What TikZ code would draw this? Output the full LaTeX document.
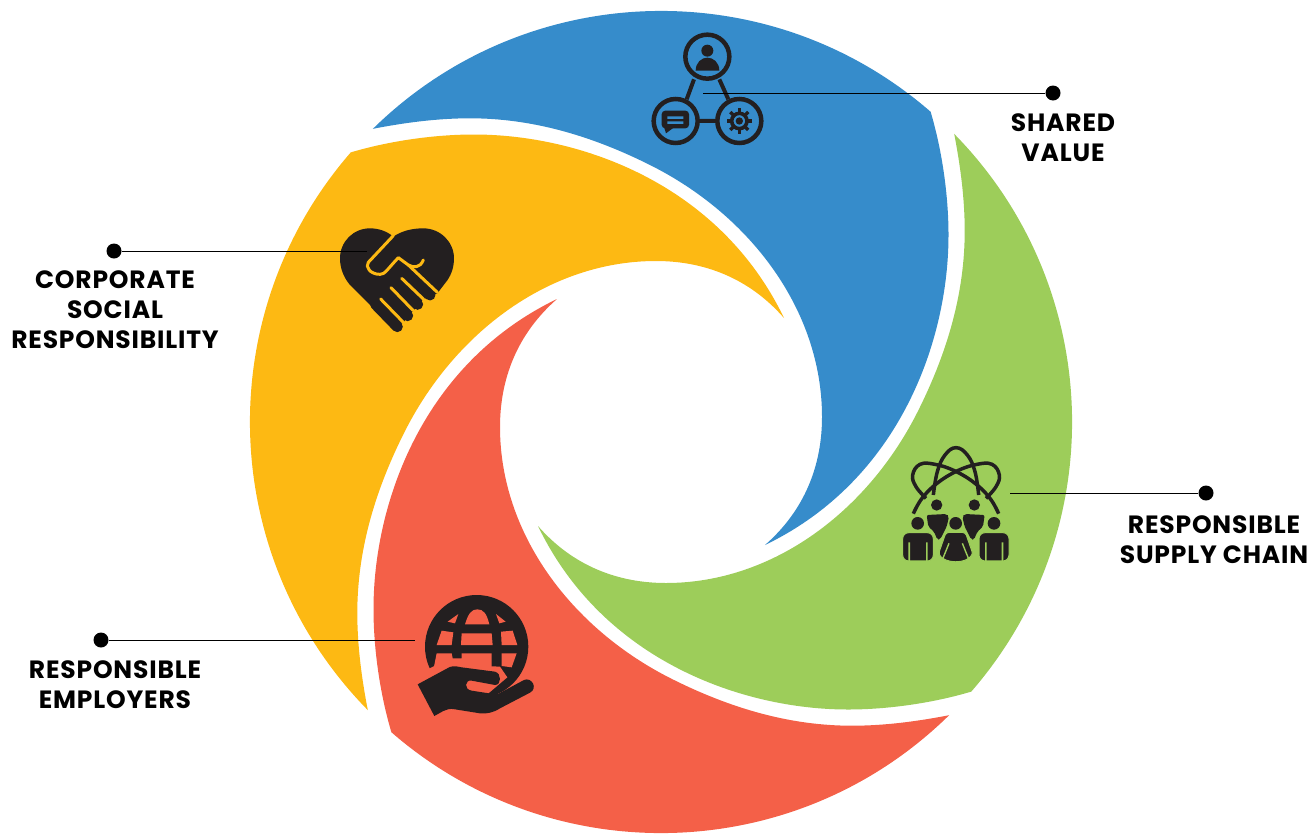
\documentclass[tikz,border=0pt]{standalone}
\usepackage{fontspec}
\setmainfont{Poppins}[LetterSpace=3.3]
\definecolor{cblue}{HTML}{368CCB}
\definecolor{cgreen}{HTML}{9DCD5A}
\definecolor{cred}{HTML}{F46048}
\definecolor{cyellow}{HTML}{FDB913}
\definecolor{cdark}{HTML}{231F20}
\tikzset{
  dotnode/.style={circle,fill=black,inner sep=0pt,minimum size=15pt},
  leader/.style={draw=black,line width=0.9pt},
  lab/.style={align=center,inner sep=0pt,font=\fontsize{25}{30}\selectfont\bfseries},
  ico/.style={x=0.3333pt,y=-0.3333pt},
  ring/.style={draw=cdark,line width=4.5pt},
  lnk/.style={draw=cdark,line width=4pt},
  orb/.style={draw=cdark,line width=3.5pt,line cap=butt},
  sep/.style={draw=cyellow,line width=3pt,line cap=round,line join=round},
  fing/.style={draw=cdark,line width=11pt,line cap=round},
  halo/.style={fill=cdark,draw=cgreen,line width=1pt},
}
\newcommand{\petal}[2]{%
  \begin{scope}[shift={(661,422)},rotate=#1]
    \fill[#2] (-288.1,-293.2) arc[start angle=134.5,end angle=49,radius=411pt]
      .. controls (281,-272) and (287.5,-227) .. (287.5,-187)
      .. controls (287.5,-82) and (239,58) .. (104,123)
      .. controls (144,88) and (161,43) .. (161,-5)
      .. controls (161,-112) and (89,-207) .. (-11,-257)
      .. controls (-71,-287) and (-130,-303.7) .. (-191,-303.7)
      .. controls (-225,-303.7) and (-258,-299) .. cycle;
  \end{scope}}
\begin{document}
\begin{tikzpicture}[x=1pt,y=-1pt]
\useasboundingbox (0,0) rectangle (1313,833);
\petal{0}{cblue}
\petal{-90}{cgreen}
\petal{-180}{cred}
\petal{-270}{cyellow}

% shared value icon
\begin{scope}[shift={(630,20)},ico]
  \foreach \c in {(232,110),(137,303),(328,303)} \draw[ring] \c circle[radius=66];
  \draw[lnk] (192,178)--(170,238) (268,178)--(295,238) (206,303)--(260,303);
  \fill[cdark] (232,92) circle[radius=18];
  \fill[cdark] (197,152) .. controls (197,127) and (215,113) .. (232,113)
     .. controls (250,113) and (268,127) .. (268,152) -- cycle;
  \fill[cdark,rounded corners=3.5pt] (95,272) rectangle (177,325);
  \fill[cdark] (100,315)--(108,340)--(132,322)--cycle;
  \fill[cblue] (112,289) rectangle (160,297) (112,304) rectangle (160,312);
  \draw[cdark,line width=3.6pt] (328,303) circle[radius=23];
  \fill[cdark] (328,303) circle[radius=11];
  \foreach \a in {0,45,...,315} \draw[cdark,line width=3.4pt] (328,303) ++(\a:26) -- ++(\a:12);
\end{scope}

% supply chain icon
\begin{scope}[shift={(880,435)},ico]
  \draw[orb] plot[smooth,tension=.7] coordinates {(356,236) (330,190) (285,145) (225,108) (165,88) (120,88) (98,120) (108,155) (138,190)};
  \draw[orb] plot[smooth,tension=.7] coordinates {(100,236) (126,190) (171,145) (231,108) (291,88) (336,88) (358,120) (348,155) (318,190)};
  \draw[orb] plot[smooth,tension=.7] coordinates {(160,180) (172,110) (195,60) (228,38) (262,60) (285,110) (296,180)};
  \fill[cdark] (170,210) circle[radius=17] (283,210) circle[radius=17];
  \fill[cdark,rounded corners=2pt] (140,240) -- (200,237) -- (207,245) -- (200,275) -- (180,314) -- (172,314) -- (162,290) -- (145,275) -- cycle;
  \fill[cdark,rounded corners=2pt] (314,240) -- (254,237) -- (247,245) -- (254,275) -- (274,314) -- (282,314) -- (292,290) -- (309,275) -- cycle;
  \fill[cdark] (113,265) circle[radius=19] (227,265) circle[radius=19] (342,265) circle[radius=19];
  \filldraw[halo,rounded corners=6pt] (68,293) rectangle (160,378);
  \filldraw[halo,rounded corners=6pt] (297,293) rectangle (387,378);
  \fill[cgreen] (85,322) rectangle (90,382) (138,322) rectangle (143,382);
  \fill[cgreen] (315,322) rectangle (320,382) (365,322) rectangle (370,382);
  \filldraw[halo,rounded corners=3pt] (198,292) -- (256,292) -- (279,358) -- (264,372)
     .. controls (240,382) and (215,382) .. (190,372) -- (175,358) -- cycle;
  \draw[cgreen,line width=1.4pt] (207,325) -- (188,372) (247,325) -- (266,372);
\end{scope}

% employers icon
\begin{scope}[shift={(400,590)},ico]
  \fill[cdark] (230,170) circle[radius=155];
  \fill[cred] (195,103) .. controls (205,70) and (215,58) .. (232,58) .. controls (250,58) and (260,70) .. (268,103) -- cycle;
  \fill[cred] (143,95) -- (175,72) -- (165,100) -- cycle;
  \fill[cred] (288,72) -- (317,95) -- (298,100) -- cycle;
  \fill[cred] (125,122) -- (160,127) -- (155,165) -- (110,165) -- cycle;
  \fill[cred] (185,130) -- (275,130) -- (278,165) -- (183,165) -- cycle;
  \fill[cred] (303,125) -- (338,122) -- (352,165) -- (305,165) -- cycle;
  \fill[cred] (110,190) -- (155,190) -- (158,205) -- (185,205) -- (185,190) -- (275,190) -- (275,240) -- (100,240) -- cycle;
  \fill[cred] (305,190) -- (350,190) -- (335,232) -- (305,228) -- cycle;
  \fill[cred] (85,237) -- (115,222) -- (300,230) -- (322,262) -- (230,340) -- (60,300) -- cycle;
  \fill[cdark] (53,283) -- (140,236) .. controls (155,226) and (165,228) .. (185,232) -- (285,245)
    .. controls (305,250) and (305,285) .. (285,285) -- (215,272)
    .. controls (195,268) and (190,298) .. (215,302) -- (280,312) .. controls (290,313) and (295,312) .. (305,306)
    -- (372,270) .. controls (395,260) and (415,295) .. (390,308)
    -- (300,355) .. controls (280,368) and (260,372) .. (240,370) -- (165,358) .. controls (150,355) and (140,358) .. (130,363) -- (103,378) -- cycle;
\end{scope}

% handshake icon
\begin{scope}[shift={(330,215)},ico]
  \fill[cdark] (190,65) .. controls (170,48) and (145,40) .. (120,40)
     .. controls (70,40) and (30,80) .. (30,130) .. controls (30,165) and (45,195) .. (65,215)
     -- (192,342) -- (220,322) -- (250,287) -- (280,252) -- (322,235) -- (345,205)
     .. controls (362,185) and (372,160) .. (372,130)
     .. controls (372,80) and (330,40) .. (280,40) .. controls (245,40) and (215,48) .. (190,65) -- cycle;
  \draw[fing] (225,170) -- (300,240);
  \draw[fing] (199,204) -- (263,268);
  \draw[fing] (167,235) -- (233,302);
  \draw[fing] (136,267) -- (202,335);
  \draw[sep] (190,62) -- (115,142) .. controls (105,155) and (120,178) .. (150,178)
     .. controls (165,178) and (170,165) .. (205,128) -- (235,150)
     .. controls (250,158) and (270,160) .. (280,135);
  \draw[sep] (235,150) -- (322,232);
  \draw[sep] (215,190) -- (281,253);
  \draw[sep] (183,218) -- (250,287);
  \draw[sep] (152,252) -- (220,322);
\end{scope}

% leaders and labels
\node[dotnode] (d1) at (1053,93) {};
\coordinate (e1) at (703,93);
\draw[leader] (d1) -- (e1);
\node[lab] (t1) at (1063,138) {SHARED\\VALUE};
\node[dotnode] (d2) at (114,251) {};
\coordinate (e2) at (367,251);
\draw[leader] (d2) -- (e2);
\node[lab] (t2) at (115,310) {CORPORATE\\SOCIAL\\RESPONSIBILITY};
\node[dotnode] (d3) at (1206,493) {};
\coordinate (e3) at (1010,493);
\draw[leader] (d3) -- (e3);
\node[lab] (t3) at (1214,540) {RESPONSIBLE\\SUPPLY CHAIN};
\node[dotnode] (d4) at (101,640) {};
\coordinate (e4) at (415,640);
\draw[leader] (d4) -- (e4);
\node[lab] (t4) at (115,685) {RESPONSIBLE\\EMPLOYERS};
\end{tikzpicture}
\end{document}
